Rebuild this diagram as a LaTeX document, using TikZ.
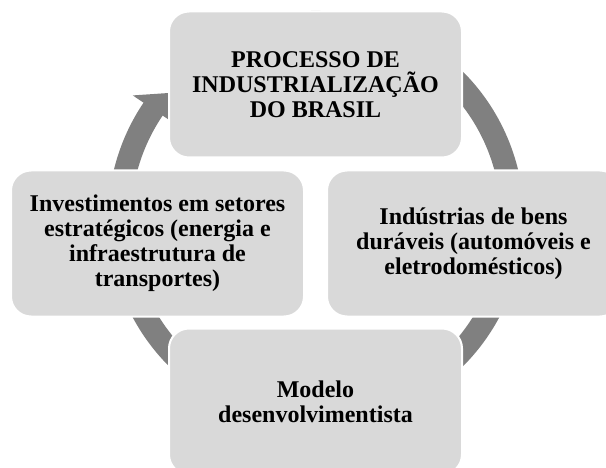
\documentclass[tikz,border=0pt]{standalone}
\usepackage{fontspec}
\setmainfont{Liberation Serif}
\usetikzlibrary{calc}
\definecolor{boxgray}{RGB}{217,217,217}
\definecolor{ringgray}{RGB}{128,128,128}
\tikzset{
  cyclebox/.style={rectangle, rounded corners=20pt, fill=boxgray, draw=white, line width=2pt,
    minimum width=293pt, minimum height=146pt, inner sep=0pt, align=center,
    font=\fontsize{24pt}{25pt}\selectfont\bfseries},
  ring/.style={fill=ringgray, draw=none}
}
\begin{document}
\begin{tikzpicture}[x=1pt,y=1pt]
\useasboundingbox (0,0) rectangle (606,467);
\clip (0,0) rectangle (606,467);
\fill[white] (0,0) rectangle (606,467);
\coordinate (C) at (316,248);
% circular arrow
\fill[ring] ($(C)+(110:208)$) arc[start angle=110, end angle=-214, radius=208]
  -- ($(C)+(146:221)$) -- ($(C)+(138:189)$) -- ($(C)+(146:172)$) -- ($(C)+(146:185)$)
  arc[start angle=-214, end angle=110, radius=185] -- cycle;
% boxes
\node[cyclebox] (top) at (315.5,382.5) {PROCESSO DE\\INDUSTRIALIZAÇÃO\\DO BRASIL};
\node[cyclebox] (left) at (157.5,223.5) {Investimentos em setores\\estratégicos (energia e\\infraestrutura de\\transportes)};
\node[cyclebox] (right) at (473.5,223.5) {Indústrias de bens\\duráveis (automóveis e\\eletrodomésticos)};
\node[cyclebox] (bottom) at (315.5,65.5) {Modelo\\desenvolvimentista};
\end{tikzpicture}
\end{document}
